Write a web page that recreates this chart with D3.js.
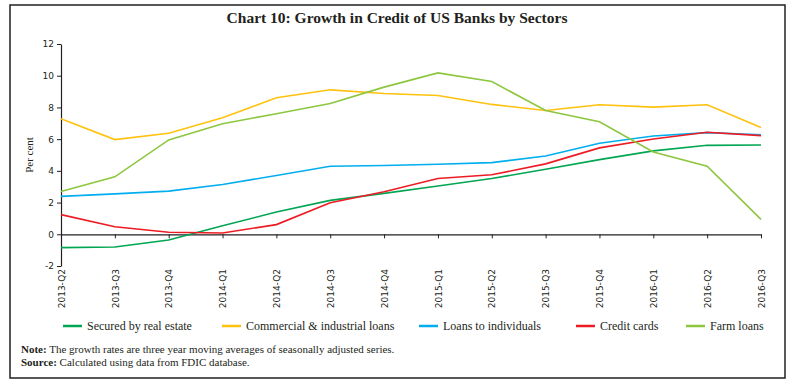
<!DOCTYPE html>
<html>
<head>
<meta charset="utf-8">
<script src="https://cdn.jsdelivr.net/npm/d3@7"></script>
<style>
  body { margin: 0; background: #fff; }
  svg { display: block; }
</style>
</head>
<body>
<div id="chart"></div>
<script>
// quarters on the x axis
var quarters = ["2013-Q2","2013-Q3","2013-Q4","2014-Q1","2014-Q2","2014-Q3","2014-Q4",
                "2015-Q1","2015-Q2","2015-Q3","2015-Q4","2016-Q1","2016-Q2","2016-Q3"];

// growth rates, per cent
var realEstate  = [-0.84,-0.80,-0.36,0.54,1.40,2.14,2.58,3.04,3.52,4.10,4.71,5.26,5.61,5.63];
var commercial  = [7.29,5.97,6.37,7.35,8.61,9.11,8.88,8.75,8.19,7.81,8.17,8.02,8.17,6.74];
var individuals = [2.39,2.55,2.72,3.14,3.71,4.29,4.34,4.42,4.52,4.94,5.74,6.20,6.41,6.28];
var creditCards = [1.24,0.48,0.13,0.08,0.61,1.99,2.68,3.52,3.75,4.44,5.45,6.01,6.43,6.22];
var farmLoans   = [2.70,3.62,5.95,6.97,7.60,8.25,9.28,10.18,9.63,7.81,7.10,5.19,4.29,0.94];

var yTicks = [-2, 0, 2, 4, 6, 8, 10, 12];

var seriesNames  = ["Secured by real estate", "Commercial & industrial loans", "Loans to individuals", "Credit cards", "Farm loans"];
var seriesColors = ["#00a651", "#ffc20e", "#00aeef", "#ed1c24", "#8dc63f"];
var seriesValues = [realEstate, commercial, individuals, creditCards, farmLoans];

var width = 792, height = 384;

var svg = d3.select("#chart").append("svg")
    .attr("width", width)
    .attr("height", height);

// frame
svg.append("rect")
    .attr("x", 10).attr("y", 5)
    .attr("width", 775).attr("height", 373)
    .attr("fill", "none")
    .attr("stroke", "#231f20")
    .attr("stroke-width", 1.5);

// title
svg.append("text")
    .attr("x", 397).attr("y", 23)
    .attr("text-anchor", "middle")
    .style("font", "bold 15.5px 'Liberation Serif', serif")
    .attr("fill", "#231f20")
    .text("Chart 10: Growth in Credit of US Banks by Sectors");

var x = d3.scalePoint().domain(quarters).range([61, 761]);
var y = d3.scaleLinear().domain([-2, 12]).range([266, 44]);

// y axis
var yAxis = svg.append("g")
    .attr("transform", "translate(61,0)")
    .call(d3.axisLeft(y).tickValues(yTicks).tickSize(4).tickSizeOuter(0).tickFormat(function(d) { return String(d); }));
yAxis.select(".domain").attr("stroke", "#231f20").attr("stroke-width", 1.2);
yAxis.selectAll(".tick line").attr("stroke", "#231f20");
yAxis.selectAll(".tick text")
    .attr("x", -7)
    .style("font", "9px 'DejaVu Sans', sans-serif")
    .attr("fill", "#231f20");

// x axis at zero
var xAxis = svg.append("g")
    .attr("transform", "translate(0," + y(0) + ")")
    .call(d3.axisBottom(x).tickSize(4).tickSizeOuter(0));
xAxis.select(".domain").attr("stroke", "#231f20").attr("stroke-width", 1.2);
xAxis.selectAll(".tick line").attr("stroke", "#231f20");
xAxis.selectAll(".tick text")
    .attr("transform", "translate(0," + (y(-2) - y(0) + 3) + ") rotate(-90)")
    .attr("x", 0).attr("y", 0).attr("dy", "0.35em")
    .attr("text-anchor", "end")
    .style("font", "9px 'DejaVu Sans', sans-serif")
    .attr("fill", "#231f20");

// y label
svg.append("text")
    .attr("transform", "translate(33," + y(5) + ") rotate(-90)")
    .attr("text-anchor", "middle")
    .style("font", "11px 'Liberation Serif', serif")
    .attr("fill", "#231f20")
    .text("Per cent");

// lines
var line = d3.line()
    .x(function(d, i) { return x(quarters[i]); })
    .y(function(d) { return y(d); });

svg.selectAll(".series")
    .data(seriesValues)
    .enter()
    .append("path")
    .attr("class", "series")
    .attr("d", line)
    .attr("fill", "none")
    .attr("stroke", function(d, i) { return seriesColors[i]; })
    .attr("stroke-width", 1.6);

// legend
var legendX = [63, 222, 419, 576, 686];
var legend = svg.selectAll(".legend")
    .data(seriesNames)
    .enter()
    .append("g")
    .attr("class", "legend")
    .attr("transform", function(d, i) { return "translate(" + legendX[i] + ",326)"; });

legend.append("line")
    .attr("x1", 0).attr("x2", 19)
    .attr("y1", 0).attr("y2", 0)
    .attr("stroke", function(d, i) { return seriesColors[i]; })
    .attr("stroke-width", 2.5);

legend.append("text")
    .attr("x", 24).attr("y", 0).attr("dy", "0.35em")
    .style("font", "12px 'Liberation Serif', serif")
    .attr("fill", "#231f20")
    .text(function(d) { return d; });

// notes
var note = svg.append("text")
    .attr("x", 21).attr("y", 353)
    .style("font", "11px 'Liberation Serif', serif")
    .attr("fill", "#231f20");
note.append("tspan").style("font-weight", "bold").text("Note:");
note.append("tspan").text(" The growth rates are three year moving averages of seasonally adjusted series.");

var source = svg.append("text")
    .attr("x", 21).attr("y", 366)
    .style("font", "11px 'Liberation Serif', serif")
    .attr("fill", "#231f20");
source.append("tspan").style("font-weight", "bold").text("Source:");
source.append("tspan").text(" Calculated using data from FDIC database.");
</script>
</body>
</html>
